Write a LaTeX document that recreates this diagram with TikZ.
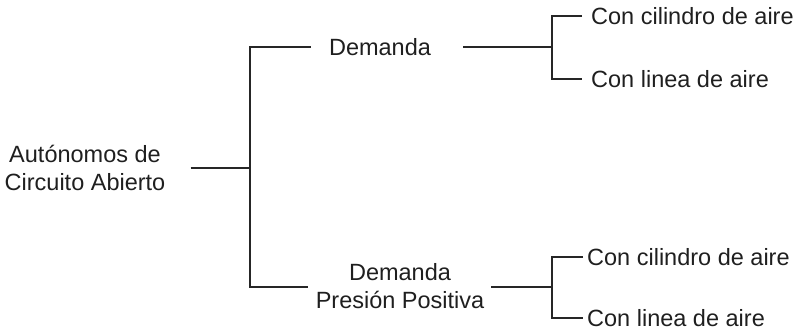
\documentclass[tikz,border=0pt]{standalone}
\usepackage{fontspec}
\setmainfont{Liberation Sans}
\begin{document}
\begin{tikzpicture}[x=1pt,y=-1pt,
  txt/.style={font=\fontsize{23.5}{28.5}\selectfont, inner sep=0pt, text=black!88},
  leaf/.style={txt, anchor=west},
  conn/.style={line width=1.5pt, draw=black!85}]
\useasboundingbox (0,0) rectangle (803,330);
% nodes
\node[txt, align=center] (root) at (85,168) {Autónomos de\\Circuito Abierto};
\node[txt] (demA) at (380,47) {Demanda};
\node[txt, align=center] (demB) at (400,286) {Demanda\\Presión Positiva};
\node[leaf] (l1) at (591,16) {Con cilindro de aire};
\node[leaf] (l2) at (591,79) {Con linea de aire};
\node[leaf] (l3) at (587,257) {Con cilindro de aire};
\node[leaf] (l4) at (587,318) {Con linea de aire};
% junctions
\coordinate (j)  at (250,168);
\coordinate (jt) at (250,47);
\coordinate (jb) at (250,287);
\coordinate (k1) at (552,47);
\coordinate (k1t) at (552,16);
\coordinate (k1b) at (552,79);
\coordinate (k2) at (552,287);
\coordinate (k2t) at (552,257);
\coordinate (k2b) at (552,318);
% connectors
\draw[conn] ([xshift=25pt]root.east |- j) -- (j);
\draw[conn] ([xshift=-18pt]demA.west) -- (jt) -- (jb) -- ([xshift=-8pt]demB.west |- jb);
\draw[conn] ([xshift=32pt]demA.east) -- (k1);
\draw[conn] ([xshift=-9pt]l1.west) -- (k1t) -- (k1b) -- ([xshift=-9pt]l2.west);
\draw[conn] ([xshift=7pt]demB.east |- k2) -- (k2);
\draw[conn] ([xshift=-4pt]l3.west) -- (k2t) -- (k2b) -- ([xshift=-4pt]l4.west);
\end{tikzpicture}
\end{document}
